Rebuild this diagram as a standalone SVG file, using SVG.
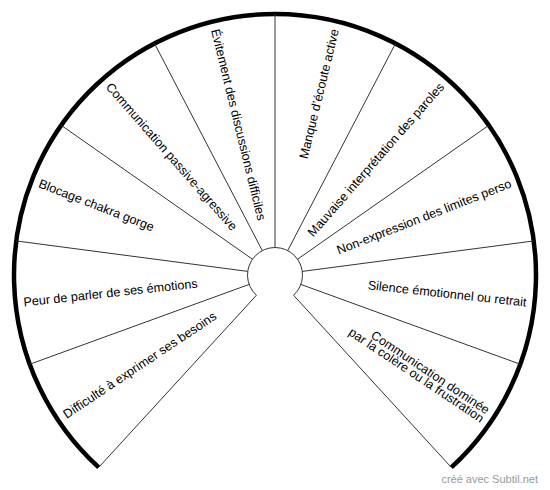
<svg xmlns="http://www.w3.org/2000/svg" width="550" height="490" viewBox="0 0 550 490">
<style>
.lbl{font-family:"Liberation Sans",Arial,sans-serif;font-size:12.6px;fill:#000;dominant-baseline:central}
.r{text-anchor:end}
.l{text-anchor:start}
.div{stroke:#333;stroke-width:1;fill:none}
.rim{stroke:#000;stroke-width:4.5;fill:none}
.foot{font-family:"Liberation Sans",Arial,sans-serif;font-size:11px;fill:#999;text-anchor:end}
</style>
<rect width="550" height="490" fill="#fff"/>
<g id="wheel">
<path d="M256.42,295.28 L98.67,467.44 A261,261 0 1 1 451.33,467.44 L293.58,295.28 A27.5,27.5 0 1 0 256.42,295.28 Z" fill="#fff" stroke="none"/>
<path class="div" d="M293.58,295.28 A27.5,27.5 0 1 0 256.42,295.28"/>
<path class="rim" d="M98.67,467.44 A261,261 0 1 1 451.33,467.44"/>
</g>
<g id="connectors">
<line class="div" x1="256.42" y1="295.28" x2="98.67" y2="467.44"/>
<line class="div" x1="249.16" y1="284.41" x2="29.74" y2="364.26"/>
<line class="div" x1="247.74" y1="271.41" x2="16.24" y2="240.94"/>
<line class="div" x1="252.47" y1="259.23" x2="61.19" y2="125.29"/>
<line class="div" x1="262.30" y1="250.61" x2="154.50" y2="43.49"/>
<line class="div" x1="275" y1="247.5" x2="275" y2="14"/>
<line class="div" x1="287.70" y1="250.61" x2="395.50" y2="43.49"/>
<line class="div" x1="297.53" y1="259.23" x2="488.81" y2="125.29"/>
<line class="div" x1="302.26" y1="271.41" x2="533.76" y2="240.94"/>
<line class="div" x1="300.84" y1="284.41" x2="520.26" y2="364.26"/>
<line class="div" x1="293.58" y1="295.28" x2="451.33" y2="467.44"/>
</g>
<g id="seg-manque" transform="translate(275,275) rotate(-76.25)"><text class="lbl r" x="253" y="0">Manque d’écoute active</text></g>
<g id="seg-mauvaise" transform="translate(275,275) rotate(-48.75)"><text class="lbl r" x="253" y="0">Mauvaise interprétation des paroles</text></g>
<g id="seg-nonexpression" transform="translate(275,275) rotate(-21.25)"><text class="lbl r" x="253" y="0">Non-expression des limites perso</text></g>
<g id="seg-silence" transform="translate(275,275) rotate(6.25)"><text class="lbl r" x="253" y="0">Silence émotionnel ou retrait</text></g>
<g id="seg-colere" transform="translate(275,275) rotate(33.75)"><text class="lbl r" x="253" y="-5">Communication dominée</text><text class="lbl r" x="253" y="5">par la colère ou la frustration</text></g>
<g id="seg-evitement" transform="translate(275,275) rotate(76.25)"><text class="lbl l" x="-253" y="0">Évitement des discussions difficiles</text></g>
<g id="seg-passive" transform="translate(275,275) rotate(48.75)"><text class="lbl l" x="-253" y="0">Communication passive-agressive</text></g>
<g id="seg-blocage" transform="translate(275,275) rotate(21.25)"><text class="lbl l" x="-253" y="0">Blocage chakra gorge</text></g>
<g id="seg-peur" transform="translate(275,275) rotate(-6.25)"><text class="lbl l" x="-253" y="0">Peur de parler de ses émotions</text></g>
<g id="seg-difficulte" transform="translate(275,275) rotate(-33.75)"><text class="lbl l" x="-253" y="0">Difficulté à exprimer ses besoins</text></g>
<text class="foot" x="538" y="483">créé avec Subtil.net</text>
</svg>
